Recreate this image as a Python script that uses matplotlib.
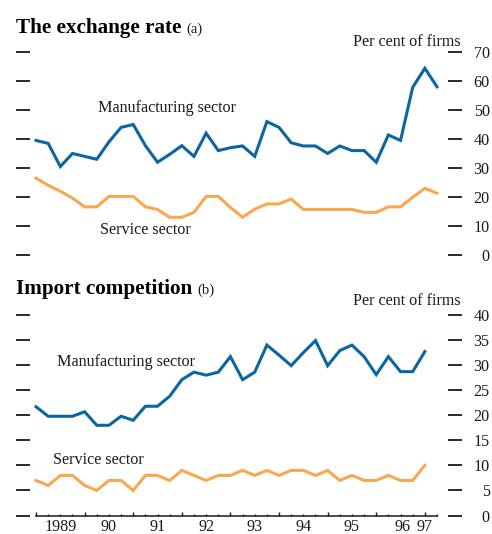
import numpy as np
import matplotlib
matplotlib.use("Agg")
import matplotlib.pyplot as plt
from matplotlib.ticker import MultipleLocator

plt.rcParams['font.family'] = ['Liberation Serif', 'DejaVu Serif']

# Quarterly survey results, per cent of firms, starting 1989 Q1
exch_manufacturing = [39.5, 38.5, 30.5, 35, 34, 33, 39, 44, 45, 37.7, 32, 34.7,
                      37.7, 34, 42, 36, 37, 37.6, 34, 46, 44, 38.7, 37.6, 37.6,
                      35, 37.6, 36, 36, 32, 41.4, 39.5, 57.8, 64.4, 58]
exch_service = [26.5, 24, 22, 19.6, 16.6, 16.6, 20.2, 20.2, 20.2, 16.6, 15.7, 13,
                13, 14.7, 20.2, 20.2, 16.4, 13, 15.8, 17.6, 17.6, 19.3, 15.7, 15.7,
                15.7, 15.7, 15.7, 14.7, 14.7, 16.6, 16.6, 19.9, 23, 21.3]
import_manufacturing = [21.7, 19.8, 19.8, 19.8, 20.7, 18, 18, 19.8, 19, 21.8, 21.8, 23.8,
                        27.1, 28.6, 28, 28.6, 31.7, 27.1, 28.6, 34, 32, 29.9, 32.5, 34.9,
                        29.9, 32.9, 34, 31.7, 28.1, 31.7, 28.7, 28.7, 32.7]
import_service = [7, 6, 8, 8, 6, 5, 7, 7, 5, 8, 8, 7,
                  9, 8, 7, 8, 8, 9, 8, 9, 8, 9, 9, 8,
                  9, 7, 8, 7, 7, 8, 7, 7, 10]
year_labels = ['1989', '90', '91', '92', '93', '94', '95', '96', '97']
start_year = 1989

BLUE = '#0b65a3'
ORANGE = '#f8a850'
INK = '#1a1a1a'
LABEL_SIZE = 11.6


def quarters(n):
    return start_year + np.arange(n) * 0.25


fig = plt.figure(figsize=(4.92, 5.34), dpi=100)
ax_top = fig.add_axes([0.060, 0.5225, 0.8506, 0.3801])
ax_bot = fig.add_axes([0.060, 0.0346, 0.8506, 0.3755])

xlim = (1988.866, 1997.477)


def style_axis(ax, ymax, step):
    ax.set_xlim(*xlim)
    ax.set_ylim(0, ymax)
    for side in ('left', 'right', 'top'):
        ax.spines[side].set_visible(False)
    ax.yaxis.set_major_locator(MultipleLocator(step))
    ax.tick_params(axis='y', which='major', left=True, right=True,
                   labelleft=False, labelright=True, direction='out',
                   length=10, width=1.3, color=INK, pad=20,
                   labelsize=LABEL_SIZE, labelcolor=INK)
    for lbl in ax.get_yticklabels():
        lbl.set_horizontalalignment('right')
    ax.patch.set_alpha(0)


style_axis(ax_top, 70, 10)
style_axis(ax_bot, 40, 5)

# Top panel: no x axis
ax_top.spines['bottom'].set_visible(False)
ax_top.tick_params(axis='x', which='both', bottom=False, labelbottom=False)

x_top = quarters(len(exch_manufacturing))
ax_top.plot(x_top, exch_manufacturing, color=BLUE, lw=2.2, solid_joinstyle='miter')
ax_top.plot(x_top, exch_service, color=ORANGE, lw=2.2, solid_joinstyle='miter')

x_bot = quarters(len(import_manufacturing))
ax_bot.plot(x_bot, import_manufacturing, color=BLUE, lw=2.2, solid_joinstyle='miter')
ax_bot.plot(x_bot, import_service, color=ORANGE, lw=2.2, solid_joinstyle='miter')

# Bottom panel x axis: year ticks, quarter minor ticks, labels mid-year
n_years = len(year_labels)
year_ticks = start_year + np.arange(n_years)
ax_bot.spines['bottom'].set_bounds(start_year, x_top[-1])
ax_bot.spines['bottom'].set_linewidth(1.1)
ax_bot.spines['bottom'].set_color(INK)
ax_bot.set_xticks(year_ticks)
ax_bot.set_xticks(np.arange(start_year, x_top[-1] + 0.01, 0.25), minor=True)
ax_bot.tick_params(axis='x', which='major', direction='in', length=3.2,
                   width=1.0, color=INK, labelbottom=False)
ax_bot.tick_params(axis='x', which='minor', direction='in', length=1.6,
                   width=1.0, color=INK)
label_pos = list(year_ticks[:-2] + 0.5) + [year_ticks[-2] + 0.55, year_ticks[-1]]
sec = ax_bot.secondary_xaxis('bottom')
sec.set_xticks(label_pos, year_labels)
sec.tick_params(length=0, pad=2.5, labelsize=LABEL_SIZE, labelcolor=INK)
sec.spines['bottom'].set_visible(False)


# Panel titles with a small regular-weight tag after the bold heading
def panel_title(y, heading, tag):
    t = fig.text(0.033, y, heading, fontsize=15.2, fontweight='bold',
                 va='baseline', ha='left', color='black')
    fig.canvas.draw()
    bb = t.get_window_extent()
    x_end = bb.x1 / fig.bbox.width
    fig.text(x_end + 0.010, y, tag, fontsize=10.5, va='baseline', ha='left', color=INK)


panel_title(0.938, 'The exchange rate', '(a)')
panel_title(0.449, 'Import competition', '(b)')

fig.text(0.937, 0.921, 'Per cent of firms', fontsize=LABEL_SIZE, ha='right', va='center', color=INK)
fig.text(0.937, 0.437, 'Per cent of firms', fontsize=LABEL_SIZE, ha='right', va='center', color=INK)

# Series labels
ax_top.text(1990.28, 50.7, 'Manufacturing sector', fontsize=LABEL_SIZE, ha='left', va='center', color=INK)
ax_top.text(1990.32, 8.6, 'Service sector', fontsize=LABEL_SIZE, ha='left', va='center', color=INK)
ax_bot.text(1989.43, 30.6, 'Manufacturing sector', fontsize=LABEL_SIZE, ha='left', va='center', color=INK)
ax_bot.text(1989.35, 11.1, 'Service sector', fontsize=LABEL_SIZE, ha='left', va='center', color=INK)

fig.savefig('out.png', dpi=100)
